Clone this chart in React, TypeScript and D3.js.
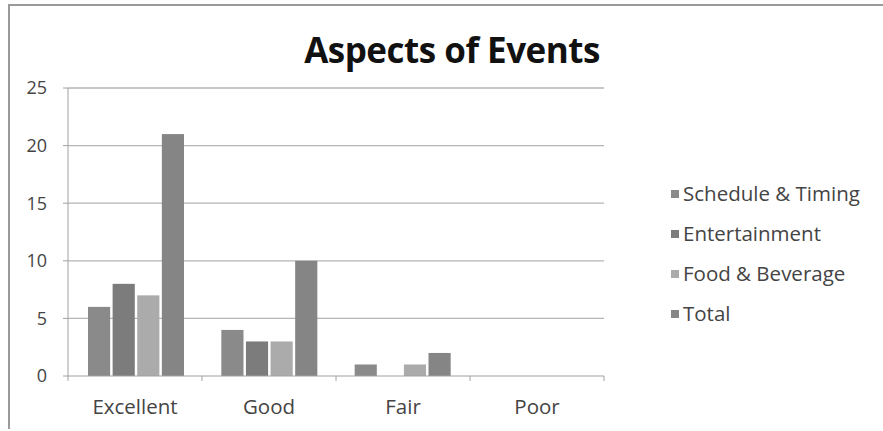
import React from "react";
import * as d3 from "d3";

const categories = ["Excellent", "Good", "Fair", "Poor"];
const seriesNames = ["Schedule & Timing", "Entertainment", "Food & Beverage", "Total"];
const scheduleTiming = [6, 4, 1, 0];
const entertainment = [8, 3, 0, 0];
const foodBeverage = [7, 3, 1, 0];
const total = [21, 10, 2, 0];
const yTicks = [0, 5, 10, 15, 20, 25];

const seriesValues = [scheduleTiming, entertainment, foodBeverage, total];
const seriesColors = ["#8a8a8a", "#7c7c7c", "#ababab", "#858585"];

const width = 883;
const height = 431;

export default function App() {
  const left = 68;
  const right = 604;
  const top = 88;
  const bottom = 376;

  const x0 = d3.scaleBand().domain(categories).range([left, right]).paddingInner(0.28).paddingOuter(0.15);
  const x1 = d3
    .scaleBand()
    .domain(seriesNames)
    .range([0, x0.bandwidth()])
    .paddingInner(0.1);
  const y = d3.scaleLinear().domain([0, 25]).range([bottom, top]);

  // category boundaries for the x-axis tick marks
  const step = (right - left) / categories.length;
  const boundaries = d3.range(categories.length + 1).map((i) => left + i * step);

  const font = "'Open Sans', sans-serif";

  return (
    <svg
      width={width}
      height={height}
      viewBox={`0 0 ${width} ${height}`}
      style={{ position: "absolute", top: 0, left: 0, background: "#fff" }}
    >
      {/* outer frame */}
      <path d={`M9,${height - 2} V5 H${width}`} fill="none" stroke="#9a9a9a" strokeWidth={2} />

      <text x={452} y={63} textAnchor="middle" fontFamily={font} fontWeight="bold" fontSize={35} letterSpacing={-0.5} fill="#111">
        Aspects of Events
      </text>

      {/* gridlines and y labels */}
      {yTicks.map((t) => (
        <g key={`y-${t}`}>
          {t > 0 && (
            <line x1={left} x2={right} y1={y(t)} y2={y(t)} stroke="#b5b5b5" strokeWidth={1.3} />
          )}
          <line x1={left - 5} x2={left} y1={y(t)} y2={y(t)} stroke="#a0a0a0" />
          <text
            x={47}
            y={y(t)}
            dy="0.35em"
            textAnchor="end"
            fontFamily={font}
            fontSize={18}
            fill="#444"
          >
            {t}
          </text>
        </g>
      ))}

      {/* bars */}
      {categories.map((c, ci) => (
        <g key={c} transform={`translate(${x0(c)},0)`}>
          {seriesNames.map((s, si) => {
            const v = seriesValues[si][ci];
            if (v <= 0) return null;
            return (
              <rect
                key={s}
                x={x1(s)}
                y={y(v)}
                width={x1.bandwidth()}
                height={y(0) - y(v)}
                fill={seriesColors[si]}
              />
            );
          })}
        </g>
      ))}

      {/* axes */}
      <line x1={left} x2={left} y1={top} y2={bottom} stroke="#a0a0a0" />
      <line x1={left} x2={right} y1={bottom} y2={bottom} stroke="#a0a0a0" />
      {boundaries.map((b, i) => (
        <line key={`b-${i}`} x1={b} x2={b} y1={bottom} y2={bottom + 5} stroke="#a0a0a0" />
      ))}
      {categories.map((c, i) => (
        <text
          key={`xl-${c}`}
          x={left + step * (i + 0.5)}
          y={414}
          textAnchor="middle"
          fontFamily={font}
          fontSize={20.5}
          fill="#444"
        >
          {c}
        </text>
      ))}

      {/* legend */}
      {seriesNames.map((s, i) => (
        <g key={`lg-${s}`} transform={`translate(671,${194 + i * 40})`}>
          <rect x={0} y={-4} width={8} height={8} fill={seriesColors[i]} />
          <text x={12} y={0} dy="0.35em" fontFamily={font} fontSize={20.5} fill="#444">
            {s}
          </text>
        </g>
      ))}
    </svg>
  );
}
